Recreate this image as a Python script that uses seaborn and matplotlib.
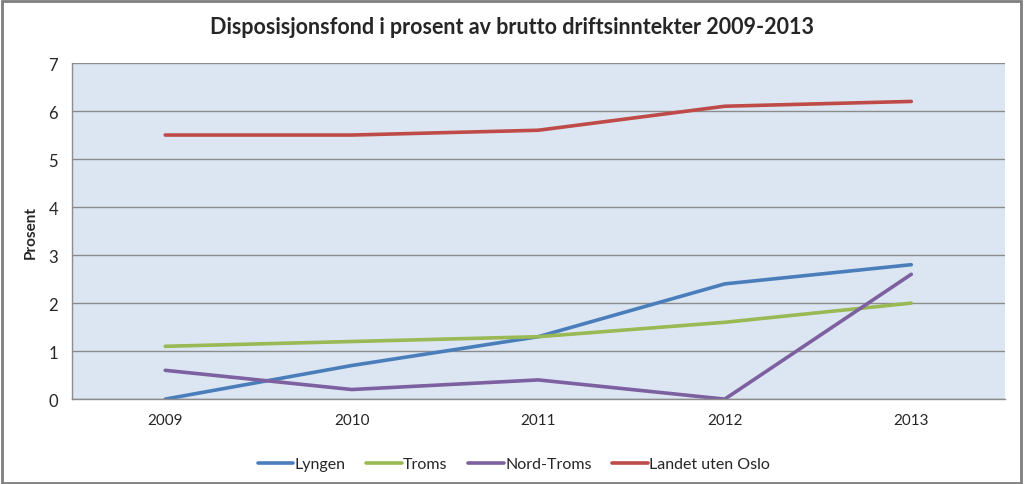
import matplotlib.pyplot as plt
import seaborn as sns
import pandas as pd
import numpy as np

# data
years = ['2009', '2010', '2011', '2012', '2013']
lyngen = [0.0, 0.7, 1.3, 2.4, 2.8]
troms = [1.1, 1.2, 1.3, 1.6, 2.0]
nord_troms = [0.6, 0.2, 0.4, 0.0, 2.6]
landet = [5.5, 5.5, 5.6, 6.1, 6.2]

series = ['Lyngen', 'Troms', 'Nord-Troms', 'Landet uten Oslo']
colors = ['#4A7EBB', '#98B954', '#7D60A0', '#BE4B48']

df = pd.DataFrame({
    'År': years * 4,
    'Prosent': lyngen + troms + nord_troms + landet,
    'Serie': [s for s in series for _ in years],
})

sns.set_style('white')
plt.rcParams['font.family'] = ['Lato', 'DejaVu Sans']

fig = plt.figure(figsize=(10.24, 4.85), dpi=100)
ax = fig.add_axes([0.0703, 0.175, 0.9107, 0.693])
ax.set_facecolor('#DCE6F2')

sns.lineplot(data=df, x='År', y='Prosent', hue='Serie', palette=colors,
             linewidth=2.6, ax=ax, sort=False)

ax.set_xlim(-0.5, 4.5)
ax.set_ylim(0, 7)
ax.set_yticks(range(0, 8))
ax.grid(True, axis='y', color='#8C8C8C', linewidth=1)
ax.set_axisbelow(True)

# kategoriakse: tick-merker mellom kategoriene
ax.set_xticks(np.arange(-0.5, 5, 1), minor=True)
ax.tick_params(axis='x', which='major', length=0, pad=10, labelsize=11)
ax.tick_params(axis='x', which='minor', length=5, color='#8C8C8C', direction='out')
ax.tick_params(axis='y', length=4, color='#8C8C8C', direction='out', labelsize=12, pad=6)

for side in ['top', 'right']:
    ax.spines[side].set_visible(False)
for side in ['left', 'bottom']:
    ax.spines[side].set_color('#8C8C8C')
    ax.spines[side].set_linewidth(1)

ax.set_xlabel('')
ax.set_ylabel('Prosent', fontsize=11, fontweight='bold', labelpad=8)

fig.suptitle('Disposisjonsfond i prosent av brutto driftsinntekter 2009-2013',
             fontsize=15.5, fontweight='bold', y=0.965)

ax.legend(loc='upper center', bbox_to_anchor=(0.474, -0.13), ncol=4, frameon=False,
          fontsize=11.5, handlelength=2.2, handletextpad=0.1, columnspacing=1.3)

# ramme rundt hele diagrammet
fig.patches.append(plt.Rectangle((0.002, 0.003), 0.995, 0.993, transform=fig.transFigure,
                                 fill=False, edgecolor='#7F7F7F', linewidth=2))

plt.savefig('out.png', dpi=100)
